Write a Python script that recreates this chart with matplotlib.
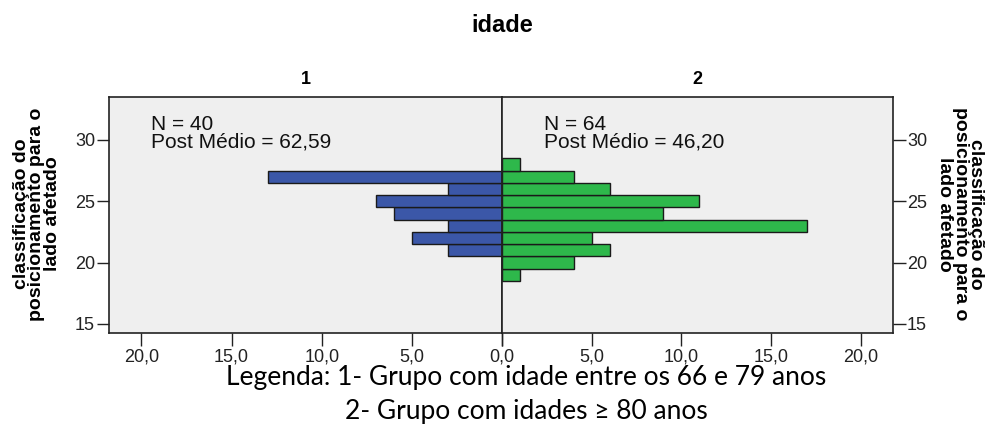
import numpy as np
import matplotlib.pyplot as plt

# score bins (centres) and counts per age group
bins = [19, 20, 21, 22, 23, 24, 25, 26, 27, 28]
counts_g1 = [0, 0, 3, 5, 3, 6, 7, 3, 13, 0]
counts_g2 = [1, 4, 6, 5, 17, 9, 11, 6, 4, 1]
groups = ["1", "2"]
stats = ["N = 40\nPost Médio = 62,59", "N = 64\nPost Médio = 46,20"]
x_ticks = [0, 5, 10, 15, 20]
y_ticks = [15, 20, 25, 30]
ylabel = "classificação do\nposicionamento para o\nlado afetado"

blue = "#3b57a8"
green = "#2eb84b"
bg = "#efefef"
sans = ["Liberation Sans", "DejaVu Sans"]

fig = plt.figure(figsize=(9.89, 4.47), dpi=100)
ax1 = fig.add_axes([109 / 989, 1 - 333 / 447, 393 / 989, 236 / 447])
ax2 = fig.add_axes([502 / 989, 1 - 333 / 447, 391 / 989, 236 / 447], sharey=ax1)

tick_font = {"family": sans, "size": 13}

for ax, counts, color in [(ax1, counts_g1, blue), (ax2, counts_g2, green)]:
    ax.set_facecolor(bg)
    ax.barh(bins, counts, height=1.0, color=color, edgecolor="#1a1a1a", linewidth=1.0)
    ax.set_xlim(0, 21.8)
    ax.set_xticks(x_ticks)
    ax.tick_params(axis="both", length=9, width=1.0, color="#222222",
                   labelcolor="#222222", pad=2)
    for s in ax.spines.values():
        s.set_linewidth(1.2)
        s.set_color("#222222")

# only one "0,0" label at the shared centre line
ax1.set_xticklabels([""] + [f"{t:.1f}".replace(".", ",") for t in x_ticks[1:]],
                    fontdict=tick_font)
ax2.set_xticklabels([f"{t:.1f}".replace(".", ",") for t in x_ticks], fontdict=tick_font)

ax1.invert_xaxis()
ax1.set_ylim(14.25, 33.5)
ax1.set_yticks(y_ticks)
ax1.set_yticklabels([str(t) for t in y_ticks], fontdict=tick_font)
ax2.yaxis.tick_right()
ax2.set_yticks(y_ticks)
ax2.set_yticklabels([str(t) for t in y_ticks], fontdict=tick_font)
ax1.tick_params(axis="y", pad=1)
ax2.tick_params(axis="y", pad=1)

# group headers and summary stats
for ax, g, txt in [(ax1, groups[0], stats[0]), (ax2, groups[1], stats[1])]:
    ax.set_title(g, fontsize=13, fontweight="bold", family=sans, pad=9)
    ax.text(0.107, 0.925, txt, transform=ax.transAxes, ha="left", va="top",
            fontsize=15, family=sans, linespacing=0.95, color="#111111")

# vertical axis titles on both sides, placed in figure pixels
fig.text(37 / 989, 1 - 214 / 447, ylabel, rotation=90, ha="center", va="center",
         fontsize=14, fontweight="bold", family=sans, linespacing=0.85)
fig.text(960 / 989, 1 - 214 / 447, ylabel, rotation=270, ha="center", va="center",
         fontsize=14, fontweight="bold", family=sans, linespacing=0.85)

fig.text(502 / 989, 1 - 25 / 447, "idade", ha="center", va="center",
         fontsize=17, fontweight="bold", family=sans)
fig.text(526 / 989, 1 - 378 / 447, "Legenda: 1- Grupo com idade entre os 66 e 79 anos",
         ha="center", va="center", fontsize=19, family="Lato")
fig.text(526 / 989, 1 - 412 / 447, "2- Grupo com idades \u2265 80 anos",
         ha="center", va="center", fontsize=19, family="Lato")

fig.savefig("out.png", dpi=100, facecolor="white")
